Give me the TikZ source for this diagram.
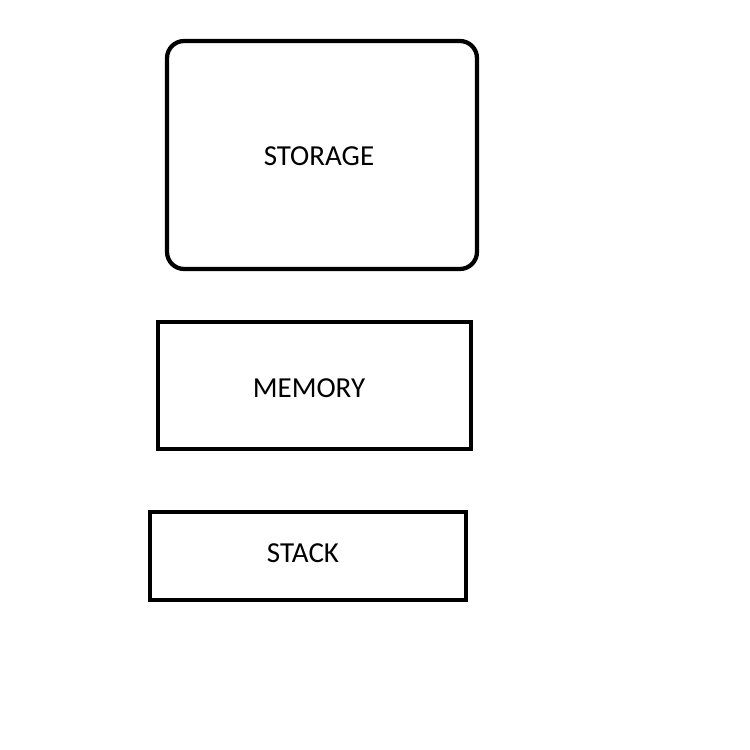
\documentclass[tikz,border=0pt]{standalone}
\usepackage{fontspec}
\setmainfont{Carlito}
\usetikzlibrary{positioning}

\tikzset{
  blockbox/.style={draw, line width=0.085cm, rectangle, inner sep=0pt},
  blocktext/.style={font=\fontsize{16.5}{19}\selectfont, anchor=base, inner sep=0pt}
}

\begin{document}
\begin{tikzpicture}[x=0.02cm, y=-0.02cm]
        \useasboundingbox (0,0) rectangle (750,750);

        % Boxes
        \node (storage) [blockbox, rounded corners=0.34cm, minimum width=6.2cm, minimum height=4.56cm] at (322,155) {};
        \node (memory) [blockbox, minimum width=6.26cm, minimum height=2.54cm] at (314.5,385.5) {};
        \node (stack) [blockbox, minimum width=6.32cm, minimum height=1.76cm] at (308,556) {};

        % Labels
        \node (storagetext) [blocktext] at (319,165) {STORAGE};
        \node (memorytext) [blocktext] at (309,397) {MEMORY};
        \node (stacktext) [blocktext] at (303,562) {STACK};

\end{tikzpicture}
\end{document}
